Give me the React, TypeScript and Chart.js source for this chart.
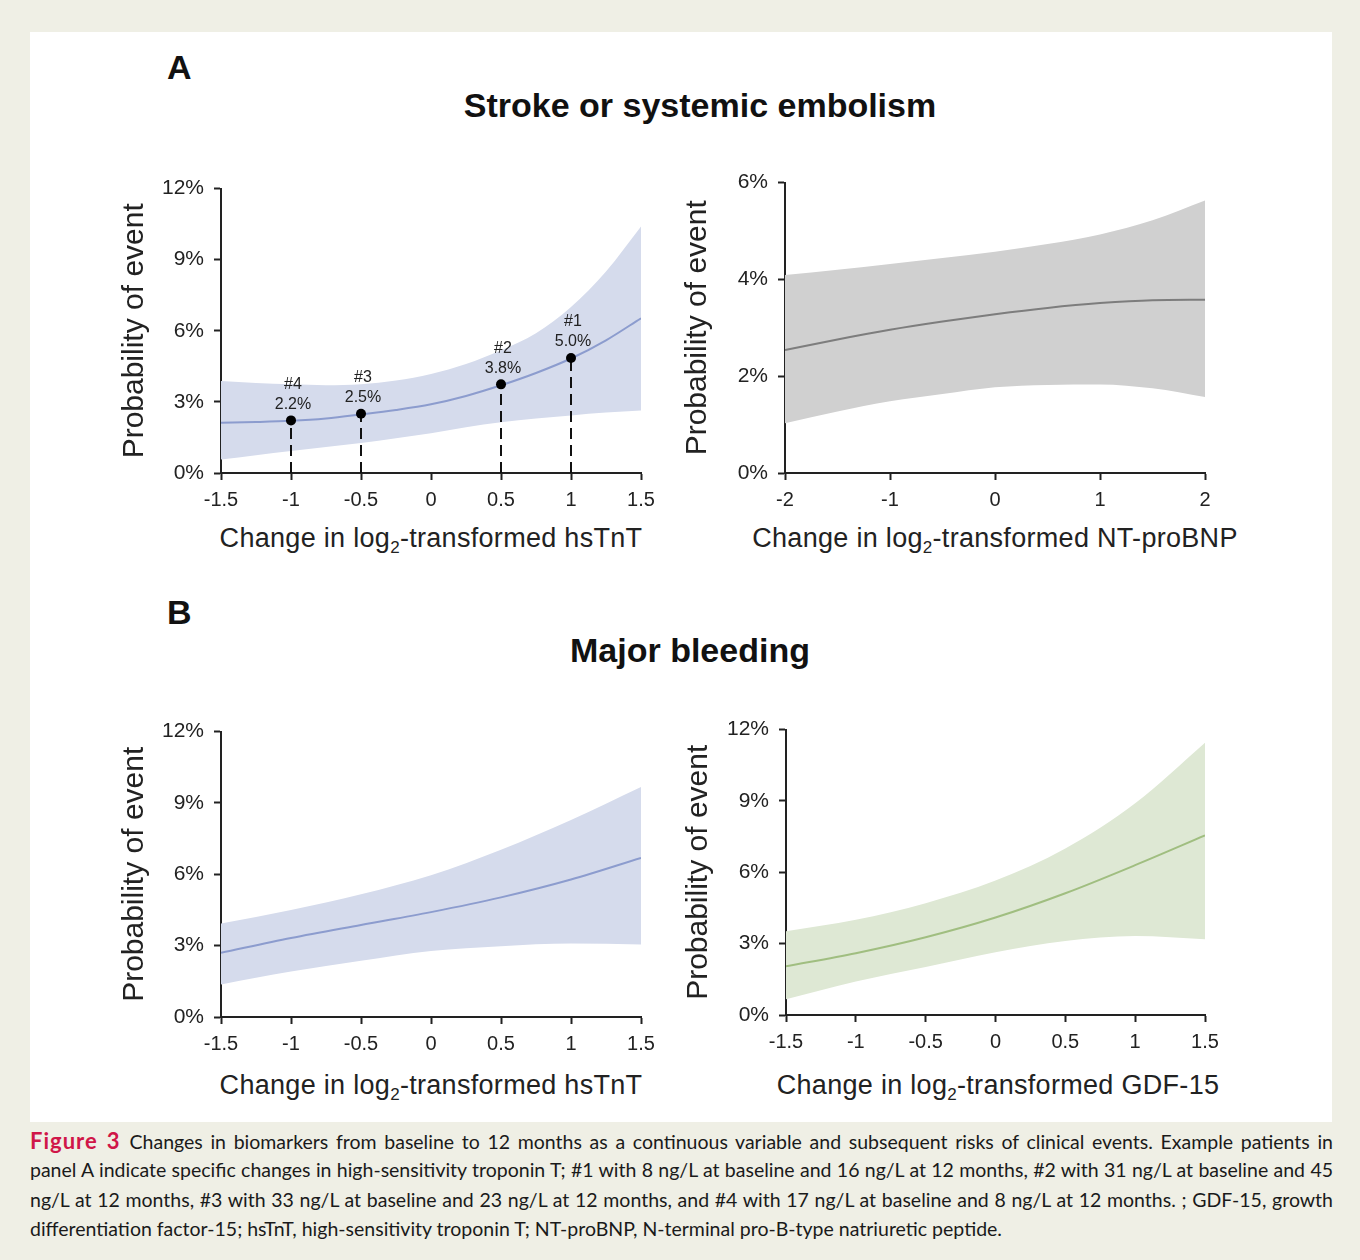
import React, { useEffect, useRef } from "react";
import { Chart, registerables } from "chart.js";
Chart.register(...registerables);

const FONT = "'Liberation Sans', Arial, Helvetica, sans-serif";
const INK = "#222222";

// ---------- Panel A, left: stroke / systemic embolism vs change in hsTnT ----------
const strokeHsX = [-1.5, -1.25, -1, -0.75, -0.5, -0.25, 0, 0.25, 0.5, 0.75, 1, 1.25, 1.5];
const strokeHsMid = [2.12, 2.15, 2.2, 2.3, 2.47, 2.66, 2.9, 3.25, 3.7, 4.22, 4.83, 5.6, 6.53];
const strokeHsUpper = [3.88, 3.8, 3.74, 3.7, 3.74, 3.9, 4.18, 4.6, 5.18, 5.9, 7.0, 8.5, 10.4];
const strokeHsLower = [0.57, 0.75, 0.93, 1.1, 1.27, 1.47, 1.68, 1.93, 2.14, 2.3, 2.43, 2.55, 2.64];

// Example patients in panel A
const patientIds = ["#1", "#2", "#3", "#4"];
const patientX = [1, 0.5, -0.5, -1];
const patientY = [4.85, 3.74, 2.5, 2.22];
const patientLabels = ["5.0%", "3.8%", "2.5%", "2.2%"];

// ---------- Panel A, right: stroke / systemic embolism vs change in NT-proBNP ----------
const strokeNtX = [-2, -1.5, -1, -0.5, 0, 0.5, 1, 1.5, 2];
const strokeNtMid = [2.54, 2.76, 2.96, 3.13, 3.28, 3.41, 3.51, 3.57, 3.58];
const strokeNtUpper = [4.09, 4.2, 4.32, 4.44, 4.57, 4.73, 4.93, 5.22, 5.63];
const strokeNtLower = [1.03, 1.27, 1.48, 1.63, 1.77, 1.82, 1.83, 1.75, 1.57];

// ---------- Panel B, left: major bleeding vs change in hsTnT ----------
const bleedHsX = [-1.5, -1, -0.5, 0, 0.5, 1, 1.5];
const bleedHsMid = [2.7, 3.32, 3.87, 4.41, 5.03, 5.78, 6.69];
const bleedHsUpper = [3.93, 4.5, 5.16, 5.96, 7.03, 8.28, 9.67];
const bleedHsLower = [1.37, 1.91, 2.36, 2.77, 2.98, 3.09, 3.05];

// ---------- Panel B, right: major bleeding vs change in GDF-15 ----------
const bleedGdfX = [-1.5, -1, -0.5, 0, 0.5, 1, 1.5];
const bleedGdfMid = [2.05, 2.6, 3.27, 4.1, 5.12, 6.3, 7.55];
const bleedGdfUpper = [3.52, 4.0, 4.7, 5.65, 7.0, 8.9, 11.45];
const bleedGdfLower = [0.66, 1.41, 2.02, 2.64, 3.11, 3.32, 3.18];

// ---------- tick labels ----------
const xTicksHalf = [-1.5, -1, -0.5, 0, 0.5, 1, 1.5];
const xTicksWhole = [-2, -1, 0, 1, 2];
const yTicks12 = [0, 3, 6, 9, 12];
const yTicks6 = [0, 2, 4, 6];

const BLUE_BAND = "rgb(213,219,236)";
const BLUE_LINE = "rgb(140,156,206)";
const GRAY_BAND = "rgb(208,208,208)";
const GRAY_LINE = "rgb(125,125,125)";
const GREEN_BAND = "rgb(222,232,212)";
const GREEN_LINE = "rgb(160,190,128)";

type PanelSpec = {
  xs: number[];
  mid: number[];
  upper: number[];
  lower: number[];
  band: string;
  line: string;
  xTicks: number[];
  yTicks: number[];
  yAxisWidth: number;
  patients?: boolean;
};

const pts = (xs: number[], ys: number[]) => xs.map((x, i) => ({ x, y: ys[i] }));

const patientLabelPlugin = {
  id: "patientLabels",
  afterDatasetsDraw(chart: any, _args: any, opts: any) {
    if (!opts || !opts.enabled) return;
    const { ctx, scales } = chart;
    ctx.save();
    ctx.fillStyle = INK;
    ctx.font = `16px ${FONT}`;
    ctx.textAlign = "center";
    ctx.textBaseline = "middle";
    patientIds.forEach((id, i) => {
      const px = scales.x.getPixelForValue(patientX[i]);
      const py = scales.y.getPixelForValue(patientY[i]);
      ctx.fillText(id, px + 2, py - 36);
      ctx.fillText(patientLabels[i], px + 2, py - 16);
    });
    ctx.restore();
  },
};

function buildConfig(p: PanelSpec): any {
  const datasets: any[] = [
    {
      data: pts(p.xs, p.upper),
      fill: "+1",
      backgroundColor: p.band,
      borderWidth: 0,
      pointRadius: 0,
      cubicInterpolationMode: "monotone",
      order: 10,
    },
    {
      data: pts(p.xs, p.lower),
      fill: false,
      borderWidth: 0,
      pointRadius: 0,
      cubicInterpolationMode: "monotone",
      order: 9,
    },
    {
      data: pts(p.xs, p.mid),
      fill: false,
      borderColor: p.line,
      borderWidth: 2,
      pointRadius: 0,
      cubicInterpolationMode: "monotone",
      order: 5,
    },
  ];
  if (p.patients) {
    patientX.forEach((x, i) => {
      datasets.push({
        data: [
          { x, y: 0 },
          { x, y: patientY[i] },
        ],
        fill: false,
        borderColor: "#111",
        borderWidth: 2,
        borderDash: [11, 6],
        pointRadius: 0,
        order: 2,
      });
    });
    datasets.push({
      data: pts(patientX, patientY),
      showLine: false,
      pointRadius: 5,
      pointBackgroundColor: "#000",
      pointBorderWidth: 0,
      order: 1,
    });
  }
  const xMin = p.xTicks[0];
  const xMax = p.xTicks[p.xTicks.length - 1];
  const yMin = p.yTicks[0];
  const yMax = p.yTicks[p.yTicks.length - 1];
  return {
    type: "line",
    data: { datasets },
    plugins: [patientLabelPlugin],
    options: {
      animation: false,
      responsive: false,
      devicePixelRatio: 1,
      events: [],
      layout: { padding: { left: 0, right: 25, top: 15, bottom: 0 } },
      plugins: {
        legend: { display: false },
        tooltip: { enabled: false },
        patientLabels: { enabled: !!p.patients },
      },
      scales: {
        x: {
          type: "linear",
          min: xMin,
          max: xMax,
          afterBuildTicks: (s: any) => {
            s.ticks = p.xTicks.map((v) => ({ value: v }));
          },
          afterFit: (s: any) => {
            s.height = 45;
          },
          ticks: {
            color: INK,
            font: { family: FONT, size: 20 },
            padding: 8,
            maxRotation: 0,
            autoSkip: false,
            callback: (v: number) => String(v),
          },
          grid: {
            drawOnChartArea: false,
            drawTicks: true,
            tickLength: 7,
            tickColor: INK,
            tickWidth: 2,
          },
          border: { display: true, color: INK, width: 2 },
        },
        y: {
          type: "linear",
          min: yMin,
          max: yMax,
          afterBuildTicks: (s: any) => {
            s.ticks = p.yTicks.map((v) => ({ value: v }));
          },
          afterFit: (s: any) => {
            s.width = p.yAxisWidth;
          },
          ticks: {
            color: INK,
            font: { family: FONT, size: 21 },
            padding: 10,
            autoSkip: false,
            callback: (v: number) => `${v}%`,
          },
          grid: {
            drawOnChartArea: false,
            drawTicks: true,
            tickLength: 7,
            tickColor: INK,
            tickWidth: 2,
          },
          border: { display: true, color: INK, width: 2 },
          title: {
            display: true,
            text: "Probability of event",
            color: INK,
            font: { family: FONT, size: 30 },
            padding: 0,
          },
        },
      },
    },
  };
}

function Panel(props: {
  spec: PanelSpec;
  left: number;
  top: number;
  width: number;
  height: number;
}) {
  const ref = useRef<HTMLCanvasElement | null>(null);
  useEffect(() => {
    if (!ref.current) return;
    const chart = new Chart(ref.current, buildConfig(props.spec));
    return () => chart.destroy();
  }, []);
  return (
    <canvas
      ref={ref}
      width={props.width}
      height={props.height}
      style={{
        position: "absolute",
        left: props.left,
        top: props.top,
        width: props.width,
        height: props.height,
      }}
    />
  );
}

function XTitle(props: { cx: number; cy: number; name: string }) {
  return (
    <div
      style={{
        position: "absolute",
        left: props.cx - 320,
        top: props.cy - 17,
        width: 640,
        height: 34,
        lineHeight: "34px",
        textAlign: "center",
        fontFamily: FONT,
        fontSize: 27,
        letterSpacing: "0.3px",
        color: INK,
        whiteSpace: "nowrap",
      }}
    >
      Change in log
      <span style={{ fontSize: 17, position: "relative", top: 6 }}>2</span>
      -transformed {props.name}
    </div>
  );
}

const captionLines = [
  "Changes in biomarkers from baseline to 12 months as a continuous variable and subsequent risks of clinical events. Example patients in",
  "panel A indicate specific changes in high-sensitivity troponin T; #1 with 8 ng/L at baseline and 16 ng/L at 12 months, #2 with 31 ng/L at baseline and 45",
  "ng/L at 12 months, #3 with 33 ng/L at baseline and 23 ng/L at 12 months, and #4 with 17 ng/L at baseline and 8 ng/L at 12 months. ; GDF-15, growth",
  "differentiation factor-15; hsTnT, high-sensitivity troponin T; NT-proBNP, N-terminal pro-B-type natriuretic peptide.",
];

export default function App() {
  const bold = (size: number): React.CSSProperties => ({
    position: "absolute",
    fontFamily: FONT,
    fontWeight: "bold",
    fontSize: size,
    lineHeight: "40px",
    color: "#111",
    whiteSpace: "nowrap",
  });
  const capBase: React.CSSProperties = {
    position: "absolute",
    left: 30,
    width: 1303,
    fontFamily: "Lato, 'Open Sans', sans-serif",
    fontSize: 19.5,
    lineHeight: "29px",
    height: 29,
    color: "#1a1a1a",
    whiteSpace: "nowrap",
  };
  return (
    <div
      style={{
        position: "absolute",
        left: 0,
        top: 0,
        width: 1360,
        height: 1260,
        background: "rgb(239,239,229)",
        overflow: "hidden",
      }}
    >
      <div
        style={{
          position: "absolute",
          left: 30,
          top: 32,
          width: 1302,
          height: 1090,
          background: "#ffffff",
        }}
      />
      <div style={{ ...bold(34), left: 167, top: 47 }}>A</div>
      <div style={{ ...bold(34), left: 400, width: 600, textAlign: "center", top: 85 }}>
        Stroke or systemic embolism
      </div>
      <div style={{ ...bold(34), left: 167, top: 592 }}>B</div>
      <div style={{ ...bold(34), left: 390, width: 600, textAlign: "center", top: 630 }}>
        Major bleeding
      </div>

      <Panel
        spec={{
          xs: strokeHsX,
          mid: strokeHsMid,
          upper: strokeHsUpper,
          lower: strokeHsLower,
          band: BLUE_BAND,
          line: BLUE_LINE,
          xTicks: xTicksHalf,
          yTicks: yTicks12,
          yAxisWidth: 104,
          patients: true,
        }}
        left={117}
        top={166}
        width={549}
        height={352}
      />
      <Panel
        spec={{
          xs: strokeNtX,
          mid: strokeNtMid,
          upper: strokeNtUpper,
          lower: strokeNtLower,
          band: GRAY_BAND,
          line: GRAY_LINE,
          xTicks: xTicksWhole,
          yTicks: yTicks6,
          yAxisWidth: 105,
        }}
        left={680}
        top={160}
        width={550}
        height={358}
      />
      <Panel
        spec={{
          xs: bleedHsX,
          mid: bleedHsMid,
          upper: bleedHsUpper,
          lower: bleedHsLower,
          band: BLUE_BAND,
          line: BLUE_LINE,
          xTicks: xTicksHalf,
          yTicks: yTicks12,
          yAxisWidth: 104,
        }}
        left={117}
        top={709}
        width={549}
        height={353}
      />
      <Panel
        spec={{
          xs: bleedGdfX,
          mid: bleedGdfMid,
          upper: bleedGdfUpper,
          lower: bleedGdfLower,
          band: GREEN_BAND,
          line: GREEN_LINE,
          xTicks: xTicksHalf,
          yTicks: yTicks12,
          yAxisWidth: 105,
        }}
        left={681}
        top={707}
        width={549}
        height={353}
      />

      <XTitle cx={431} cy={538} name="hsTnT" />
      <XTitle cx={995} cy={538} name="NT-proBNP" />
      <XTitle cx={431} cy={1085} name="hsTnT" />
      <XTitle cx={998} cy={1085} name="GDF-15" />

      {captionLines.map((line, i) => (
        <div
          key={i}
          style={{
            ...capBase,
            top: 1126 + i * 29.3,
            textAlign: i < 3 ? "justify" : "left",
            textAlignLast: i < 3 ? "justify" : "left",
          }}
        >
          {i === 0 && (
            <span
              style={{
                color: "rgb(208,22,72)",
                fontWeight: "bold",
                fontSize: 22,
                letterSpacing: "1px",
              }}
            >
              Figure 3{" "}
            </span>
          )}
          {line}
        </div>
      ))}
    </div>
  );
}
